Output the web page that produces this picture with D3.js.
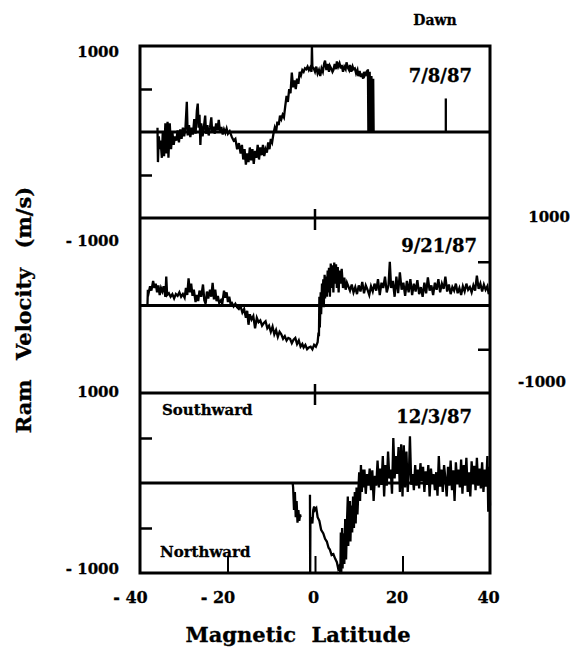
<!DOCTYPE html>
<html>
<head>
<meta charset="utf-8">
<script src="https://cdn.jsdelivr.net/npm/d3@7"></script>
<style>
  html, body { margin: 0; padding: 0; background: #fff; }
  svg { display: block; }
  text { font-family: "DejaVu Serif", serif; font-weight: bold; fill: #000; stroke: #000; stroke-width: 0.3px; }
</style>
</head>
<body>
<svg id="chart" width="572" height="648"></svg>
<script>
// ---------------- DATA ----------------
const latTicks = [-40, -20, 0, 20, 40];
const latTickLabels = ["- 40", "- 20", "0", "20", "40"];
const velTicks = [-500, 500];
const panelDates = ["7/8/87", "9/21/87", "12/3/87"];
const leftVelLabels = ["1000", "- 1000", "1000", "- 1000"];
const rightVelLabels = ["1000", "-1000"];

// 7/8/87 : [magnetic latitude, ram velocity m/s]
const series1 = [
  [-36.0,50],[-35.9,-350],[-35.7,-50],[-35.5,-200],[-35.3,-100],[-35.0,-300],[-34.8,0],[-34.5,-280],
  [-34.2,100],[-34.0,-250],[-33.7,120],[-33.5,-300],[-33.2,100],[-32.9,-200],[-32.6,0],[-32.3,-150],
  [-32.0,-50],[-31.7,-100],[-31.4,20],[-31.1,-120],[-30.8,30],[-30.5,-80],[-30.2,50],[-29.9,-50],
  [-29.6,60],[-29.3,350],[-29.1,-40],[-28.8,80],[-28.5,-60],[-28.2,50],[-27.9,-30],[-27.6,150],
  [-27.3,-20],[-27.0,250],[-26.8,330],[-26.6,50],[-26.4,200],[-26.2,-150],[-26.0,100],[-25.7,-50],
  [-25.4,60],[-25.1,190],[-24.9,-20],[-24.6,80],[-24.3,-40],[-24.0,50],[-23.7,170],[-23.5,0],
  [-23.2,60],[-22.9,-20],[-22.6,100],[-22.3,20],[-22.0,140],[-21.7,0],[-21.4,60],[-21.1,-30],
  [-20.8,30],[-20.5,-10],[-20.2,40],[-19.9,-20],[-19.5,10],[-19.0,-60],[-18.6,-100],[-18.2,-80],
  [-17.8,-200],[-17.4,-130],[-17.0,-250],[-16.7,-150],[-16.4,-320],[-16.1,-200],[-15.8,-380],[-15.5,-250],
  [-15.2,-350],[-14.9,-180],[-14.6,-330],[-14.3,-200],[-14.0,-370],[-13.7,-220],[-13.4,-300],[-13.1,-150],
  [-12.8,-320],[-12.5,-180],[-12.2,-270],[-11.9,-150],[-11.6,-280],[-11.3,-200],[-11.0,-240],[-10.7,-120],
  [-10.4,-200],[-10.1,-80],[-9.8,-120],[-9.5,-20],[-9.2,50],[-8.9,0],[-8.6,120],[-8.3,80],
  [-8.0,190],[-7.7,150],[-7.4,200],[-7.1,170],[-6.8,300],[-6.5,420],[-6.2,350],[-5.9,500],
  [-5.6,450],[-5.3,690],[-5.0,520],[-4.7,600],[-4.4,500],[-4.1,620],[-3.8,560],[-3.5,700],
  [-3.2,660],[-2.9,720],[-2.6,700],[-2.3,740],[-2.0,730],[-1.7,760],[-1.4,720],[-1.1,750],
  [-0.8,700],[-0.7,990],[-0.6,760],[-0.3,740],[0.0,700],[0.3,760],[0.6,680],[0.9,720],
  [1.2,650],[1.5,740],[1.8,700],[2.1,800],[2.3,830],[2.6,720],[2.9,790],[3.2,700],
  [3.4,770],[3.7,740],[4.0,700],[4.2,720],[4.5,790],[4.8,730],[5.0,820],[5.3,760],
  [5.6,800],[5.9,740],[6.1,780],[6.4,700],[6.7,760],[7.0,730],[7.2,810],[7.5,750],
  [7.8,720],[8.0,780],[8.3,700],[8.6,760],[8.8,730],[9.1,740],[9.4,680],[9.7,720],
  [9.9,650],[10.2,710],[10.5,640],[10.7,680],[11.0,620],[11.2,700],[11.4,660],[11.7,690],
  [12.0,650],[12.1,730],[12.2,0],[12.5,700],[12.7,0],[12.9,650],[13.1,0],[13.3,620],[13.4,0]
];
const spike1 = [[29.9,0],[29.9,390]];

// 9/21/87
const series2 = [
  [-38.3,0],[-38.2,180],[-38.0,150],[-37.7,220],[-37.4,170],[-37.0,280],[-36.7,200],[-36.4,250],
  [-36.1,150],[-35.8,230],[-35.5,120],[-35.2,200],[-34.9,160],[-34.6,220],[-34.2,100],[-34.0,330],
  [-33.8,120],[-33.4,140],[-33.0,100],[-32.6,130],[-32.2,80],[-31.8,130],[-31.4,110],[-31.0,150],
  [-30.6,100],[-30.2,130],[-29.8,90],[-29.5,200],[-29.2,120],[-28.9,310],[-28.6,150],[-28.3,250],
  [-28.0,110],[-27.7,180],[-27.3,40],[-27.0,120],[-26.7,50],[-26.4,170],[-26.0,100],[-25.6,240],
  [-25.3,60],[-25.0,20],[-24.7,160],[-24.4,80],[-24.0,180],[-23.7,100],[-23.4,260],[-23.1,70],
  [-22.8,180],[-22.5,50],[-22.2,110],[-21.9,30],[-21.5,60],[-21.2,20],[-20.8,170],[-20.5,90],
  [-20.2,150],[-19.9,40],[-19.6,100],[-19.3,20],[-19.0,30],[-18.6,-10],[-18.2,20],[-17.8,-20],
  [-17.4,-40],[-17.0,-10],[-16.6,-80],[-16.2,-40],[-15.8,-140],[-15.5,-60],[-15.2,-220],[-14.9,-100],
  [-14.5,-160],[-14.1,-120],[-13.7,-260],[-13.3,-140],[-12.9,-190],[-12.5,-170],[-12.1,-230],[-11.7,-200],
  [-11.3,-180],[-10.9,-260],[-10.5,-230],[-10.1,-300],[-9.7,-240],[-9.3,-330],[-8.9,-280],[-8.5,-360],
  [-8.1,-300],[-7.7,-330],[-7.3,-380],[-6.9,-350],[-6.5,-400],[-6.1,-370],[-5.7,-380],[-5.3,-430],
  [-4.9,-390],[-4.5,-370],[-4.1,-440],[-3.7,-400],[-3.3,-470],[-2.9,-440],[-2.6,-480],[-2.2,-450],
  [-1.8,-500],[-1.4,-480],[-1.0,-470],[-0.6,-500],[-0.2,-450],[0.2,-470],[0.6,-420],[0.8,-310],
  [0.9,-350],[1.0,100],[1.1,-250],[1.3,150],[1.4,-100],[1.6,250],[1.7,50],[1.9,300],
  [2.0,-20],[2.2,350],[2.3,80],[2.5,330],[2.7,100],[2.9,400],[3.0,150],[3.2,430],
  [3.4,100],[3.6,480],[3.8,200],[4.0,460],[4.2,150],[4.4,490],[4.6,250],[4.8,470],
  [5.0,200],[5.2,440],[5.4,150],[5.6,400],[5.9,250],[6.1,420],[6.4,200],[6.7,320],
  [7.0,180],[7.3,260],[8.0,170],[8.4,240],[8.8,150],[9.2,210],[9.6,130],[10.0,230],
  [10.4,160],[10.8,270],[11.2,140],[11.6,230],[12.0,180],[12.4,120],[12.8,220],[13.2,160],
  [13.6,250],[14.0,170],[14.4,300],[14.8,120],[15.2,260],[15.6,200],[16.0,330],[16.4,150],
  [16.8,230],[17.1,500],[17.4,200],[17.8,280],[18.2,100],[18.6,330],[19.0,140],[19.4,380],
  [19.8,180],[20.2,260],[20.6,110],[21.0,280],[21.4,150],[21.8,300],[22.2,120],[22.6,250],
  [23.0,160],[23.4,290],[23.8,130],[24.2,210],[24.6,100],[25.0,260],[25.4,140],[25.8,320],
  [26.2,170],[26.6,230],[27.0,120],[27.4,260],[27.8,180],[28.2,300],[28.6,150],[29.0,250],
  [29.4,190],[29.8,330],[30.2,160],[30.6,240],[31.0,130],[31.4,210],[31.8,170],[32.2,250],
  [32.6,140],[33.0,200],[33.4,120],[33.8,220],[34.2,160],[34.6,250],[35.0,180],[35.4,210],
  [35.8,150],[36.2,230],[36.6,170],[37.0,340],[37.4,190],[37.8,250],[38.2,160],[38.6,240],
  [39.0,180],[39.4,220],[39.7,130],[40.0,180]
];

// 12/3/87 (null = data gap)
const series3 = [
  [-5.1,0],[-5.0,-50],[-4.8,-300],[-4.6,-100],[-4.4,-380],[-4.2,-200],[-4.0,-440],[-3.8,-300],
  [-3.6,-420],[-3.4,-350],[-3.3,-380],[-2.0,null],
  [-1.15,-130],[-1.1,-1000],[-1.05,-420],[-0.8,-380],[-0.6,-450],[-0.4,-300],[-0.2,-260],[0.0,-300],
  [0.3,-280],[0.6,-380],[1.0,-420],[1.4,-520],[1.9,-560],[2.3,-620],[2.7,-650],[3.1,-720],
  [3.4,-740],[3.8,-800],[4.2,-790],[4.6,-840],[5.0,-880],[5.3,-950],[5.5,-930],[5.7,-980],
  [5.8,-1000],[5.9,-550],[6.0,-1000],[6.2,-500],[6.3,-950],[6.5,-560],[6.7,-900],[6.9,-400],
  [7.1,-850],[7.3,-450],[7.5,-150],[7.6,-700],[7.8,-350],[8.0,-200],[8.1,-650],[8.3,-250],
  [8.5,-550],[8.7,-150],[8.9,-500],[9.1,-100],[9.3,-450],[9.5,-50],[9.7,-350],[9.9,-100],
  [10.1,120],[10.3,-200],[10.5,200],[10.7,-100],[10.9,150],[11.1,-50],[11.3,150],[11.6,-120],
  [11.9,100],[12.2,-30],[12.5,160],[12.8,-80],[13.1,140],[13.4,-200],[13.7,80],[14.0,-30],
  [14.3,250],[14.6,-50],[14.9,160],[15.2,-20],[15.5,300],[15.8,-150],[16.1,200],[16.4,-30],
  [16.7,350],[17.0,50],[17.3,150],[17.6,-120],[17.9,500],[18.2,50],[18.5,300],[18.8,100],
  [19.1,400],[19.4,-100],[19.7,430],[20.0,-150],[20.3,420],[20.6,-50],[20.9,350],[21.2,-100],
  [21.5,170],[21.7,520],[22.0,-20],[22.3,100],[22.6,-80],[22.9,200],[23.2,-30],[23.5,150],
  [23.8,-60],[24.1,220],[24.4,20],[24.7,180],[25.0,-100],[25.3,130],[25.6,-20],[25.9,200],
  [26.2,-150],[26.5,160],[26.8,0],[27.1,100],[27.4,-80],[27.7,120],[28.0,-140],[28.3,300],
  [28.6,-40],[28.9,150],[29.2,-100],[29.5,200],[29.8,50],[30.1,-150],[30.4,180],[30.7,-30],
  [31.0,250],[31.3,-80],[31.6,140],[31.9,-200],[32.2,230],[32.5,0],[32.8,150],[33.1,-50],
  [33.4,260],[33.7,-120],[34.0,200],[34.3,-30],[34.6,280],[34.9,-100],[35.2,120],[35.5,-150],
  [35.8,240],[36.1,0],[36.4,190],[36.7,-80],[37.0,280],[37.3,-30],[37.6,160],[37.9,-60],
  [38.2,230],[38.5,-100],[38.8,150],[39.1,-40],[39.4,300],[39.6,-320],[39.8,180],[40.0,-250]
];

// ---------------- LAYOUT ----------------
const svg = d3.select("#chart");
const left = 140, right = 490;
const panelTops = [46, 218, 393];
const panelBottoms = [218, 393, 573];

const x = d3.scaleLinear().domain([-40, 40]).range([left, right]);
const ys = panelTops.map((t, i) =>
  d3.scaleLinear().domain([-1000, 1000]).range([panelBottoms[i], t]));

const line = (y) => d3.line()
  .defined(d => d[1] !== null)
  .x(d => x(d[0])).y(d => y(d[1]));

const allSeries = [[series1, spike1], [series2], [series3]];

// data lines
allSeries.forEach((group, i) => {
  group.forEach(s => {
    svg.append("path").datum(s)
      .attr("d", line(ys[i]))
      .attr("fill", "none").attr("stroke", "#000")
      .attr("stroke-width", 2.3).attr("stroke-linejoin", "miter");
  });
});

// zero lines
ys.forEach(y => {
  svg.append("line")
    .attr("x1", left).attr("x2", right)
    .attr("y1", y(0)).attr("y2", y(0))
    .attr("stroke", "#000").attr("stroke-width", 3);
});

// frame + dividers
svg.append("rect")
  .attr("x", left).attr("y", panelTops[0])
  .attr("width", right - left).attr("height", panelBottoms[2] - panelTops[0])
  .attr("fill", "none").attr("stroke", "#000").attr("stroke-width", 3);
[panelTops[1], panelTops[2]].forEach(yy => {
  svg.append("line").attr("x1", left).attr("x2", right)
    .attr("y1", yy).attr("y2", yy)
    .attr("stroke", "#000").attr("stroke-width", 3);
  // tick at latitude 0 across the divider
  svg.append("line").attr("x1", x(0)).attr("x2", x(0))
    .attr("y1", yy - 9).attr("y2", yy + 12)
    .attr("stroke", "#000").attr("stroke-width", 2.5);
});

// y ticks (inward)
function styleAxis(g) {
  g.select(".domain").remove();
  g.selectAll(".tick line").attr("stroke", "#000").attr("stroke-width", 2.5);
}
[0, 2].forEach(i => {
  svg.append("g").attr("transform", `translate(${left},0)`)
    .call(d3.axisLeft(ys[i]).tickValues(velTicks).tickSize(-12).tickFormat(""))
    .call(styleAxis);
});
svg.append("g").attr("transform", `translate(${right},0)`)
  .call(d3.axisRight(ys[1]).tickValues(velTicks).tickSize(-12).tickFormat(""))
  .call(styleAxis);

// x axis at bottom, ticks pointing up
const xAxis = svg.append("g").attr("transform", `translate(0,${panelBottoms[2]})`)
  .call(d3.axisBottom(x).tickValues(latTicks).tickSize(-17).tickPadding(19)
    .tickFormat((d, i) => latTickLabels[i]));
xAxis.select(".domain").remove();
xAxis.selectAll(".tick line").attr("stroke", "#000").attr("stroke-width", 2)
  .filter(d => d === -40 || d === 40).remove();
xAxis.selectAll(".tick text")
  .style("font-family", "'DejaVu Serif', serif").style("font-weight", "bold")
  .style("font-size", "16px").attr("fill", "#000").attr("stroke", "#000").attr("stroke-width", 0.3)
  .attr("dx", d => d < 0 ? "-10px" : (d === 40 ? "-2px" : (d === 20 ? "-6px" : "-2px")));

// left velocity labels
const leftLabelY = [ys[0](1000) + 11, ys[0](-1000) + 28, ys[2](1000) + 4, ys[2](-1000) + 1];
leftVelLabels.forEach((t, i) => {
  svg.append("text").attr("x", 119).attr("y", leftLabelY[i])
    .attr("text-anchor", "end").style("font-size", "15px").text(t);
});
// right velocity labels
const rightLabelY = [ys[1](1000) + 4, ys[1](-1000) - 6];
const rightLabelX = [570, 566];
rightVelLabels.forEach((t, i) => {
  svg.append("text").attr("x", rightLabelX[i]).attr("y", rightLabelY[i])
    .attr("text-anchor", "end").style("font-size", "15px").text(t);
});

// date labels
const dateY = [82, 252, 423];
const dateX = [472, 477, 472];
panelDates.forEach((t, i) => {
  svg.append("text").attr("x", dateX[i]).attr("y", dateY[i])
    .attr("text-anchor", "end").style("font-size", "18px").text(t);
});

// annotations
svg.append("text").attr("x", 435).attr("y", 25).attr("text-anchor", "middle")
  .style("font-size", "14px").text("Dawn");
svg.append("text").attr("x", 162).attr("y", 415)
  .style("font-size", "15px").text("Southward");
svg.append("text").attr("x", 160).attr("y", 557)
  .style("font-size", "15px").text("Northward");

// axis titles
svg.append("text").attr("x", 298).attr("y", 642).attr("text-anchor", "middle")
  .style("font-size", "21px").style("word-spacing", "8px").text("Magnetic Latitude");
svg.append("text").attr("transform", "translate(31,310) rotate(-90)")
  .attr("text-anchor", "middle").style("font-size", "21px").style("word-spacing", "12px")
  .text("Ram Velocity (m/s)");
</script>
</body>
</html>
